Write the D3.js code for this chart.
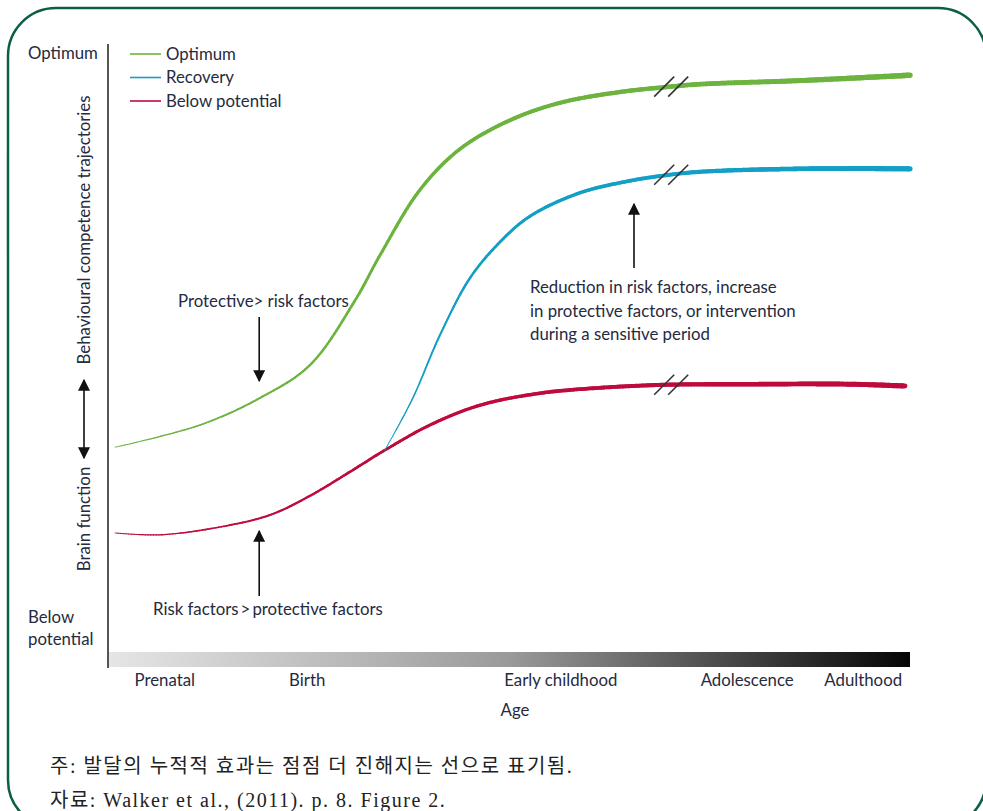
<!DOCTYPE html>
<html><head><meta charset="utf-8">
<script src="https://cdn.jsdelivr.net/npm/d3@7"></script>
<style>
html,body{margin:0;padding:0;background:#fff;}
svg{display:block;}
</style></head>
<body>
<svg id="chart" width="983" height="811"></svg>
<script>
// ---------- data ----------
const seriesNames = ["Optimum", "Recovery", "Below potential"];
const seriesColors = ["#6db33f", "#139fc6", "#be0a3c"];
// x: age index 0-100, y: level 0-100
const optimumX = [0.9, 11.5, 19, 25.25, 30.9, 34, 39, 44, 50.25, 56.5, 64, 69.6, 74, 86.5, 100.25];
const optimumY = [33.8, 37.5, 42, 47.5, 58.3, 65.8, 76.7, 83.5, 88.3, 91.2, 93, 93.8, 94.3, 94.9, 95.8];
const recoveryX = [34.6, 38, 41.5, 45.25, 49, 52.75, 59, 65.25, 69.6, 74, 86.5, 100.25];
const recoveryY = [33.3, 41.7, 52.5, 62, 68, 72.3, 76.2, 78.2, 79.1, 79.7, 80.2, 80.2];
const belowX = [0.9, 6.5, 14, 20.25, 25.25, 30.25, 34.6, 40.25, 46.5, 54, 61.5, 69.6, 80.25, 92.75, 99.6];
const belowY = [19.5, 19.2, 20.5, 22.5, 25.7, 29.7, 33.3, 37.5, 40.8, 42.8, 43.7, 44.2, 44.3, 44.3, 44.0];
const breakX = 70.4;
const ageLabels = ["Prenatal", "Birth", "Early childhood", "Adolescence", "Adulthood"];
const agePos = [7.1, 24.9, 56.6, 79.9, 94.4];
const footNotes = ["주: 발달의 누적적 효과는 점점 더 진해지는 선으로 표기됨.", "자료: Walker et al., (2011). p. 8. Figure 2."];
const annoReduction = ["Reduction in risk factors, increase", "in protective factors, or intervention", "during a sensitive period"];

// ---------- setup ----------
const svg = d3.select("#chart");
const x = d3.scaleLinear().domain([0, 100]).range([108, 908]);
const y = d3.scaleLinear().domain([0, 100]).range([650, 50]);
const txt = "#262a3e";
const font = "Lato, 'Open Sans', sans-serif";
const fs = 16.8;

// frame
svg.append("rect").attr("x", 8).attr("y", 8).attr("width", 978).attr("height", 820)
  .attr("rx", 48).attr("ry", 48).attr("fill", "none").attr("stroke", "#0b5e48").attr("stroke-width", 2.5);

const defs = svg.append("defs");
const grad = defs.append("linearGradient").attr("id", "ageGrad");
grad.append("stop").attr("offset", "0%").attr("stop-color", "#e6e6e6");
grad.append("stop").attr("offset", "50%").attr("stop-color", "#9a9a9a");
grad.append("stop").attr("offset", "100%").attr("stop-color", "#050505");
const ah2 = defs.append("marker").attr("id", "arrowBig").attr("viewBox", "0 0 10 10")
  .attr("refX", 9).attr("refY", 5).attr("markerWidth", 7.5).attr("markerHeight", 7.5)
  .attr("markerUnits", "strokeWidth").attr("orient", "auto-start-reverse");
ah2.append("path").attr("d", "M0,0 L10,5 L0,10 z").attr("fill", "#111");

// age gradient bar
svg.append("rect").attr("x", x(0)).attr("y", 652).attr("width", 910 - x(0)).attr("height", 15)
  .attr("fill", "url(#ageGrad)");
// y axis line
svg.append("line").attr("x1", x(0)).attr("x2", x(0)).attr("y1", 44).attr("y2", 668)
  .attr("stroke", "#555").attr("stroke-width", 2);

// age labels
svg.append("g").selectAll("text").data(ageLabels).join("text")
  .attr("x", (d, i) => x(agePos[i])).attr("y", 686).attr("text-anchor", "middle")
  .attr("font-family", font).attr("font-size", fs).attr("fill", txt).text(d => d);
svg.append("text").attr("x", 515).attr("y", 716).attr("text-anchor", "middle")
  .attr("font-family", font).attr("font-size", fs).attr("fill", txt).text("Age");

// y labels
svg.append("text").attr("x", 28).attr("y", 59).attr("font-family", font).attr("font-size", fs).attr("fill", txt).text("Optimum");
svg.append("text").attr("x", 28).attr("y", 623).attr("font-family", font).attr("font-size", fs).attr("fill", txt).text("Below");
svg.append("text").attr("x", 28).attr("y", 645).attr("font-family", font).attr("font-size", fs).attr("fill", txt).text("potential");
svg.append("text").attr("transform", "translate(90,230) rotate(-90)").attr("text-anchor", "middle")
  .attr("font-family", font).attr("font-size", fs).attr("fill", txt).text("Behavioural competence trajectories");
svg.append("text").attr("transform", "translate(90,519) rotate(-90)").attr("text-anchor", "middle")
  .attr("font-family", font).attr("font-size", fs).attr("fill", txt).text("Brain function");
svg.append("line").attr("x1", 84).attr("x2", 84).attr("y1", 380).attr("y2", 458)
  .attr("stroke", "#111").attr("stroke-width", 1.6)
  .attr("marker-start", "url(#arrowBig)").attr("marker-end", "url(#arrowBig)");

// legend
const lg = svg.append("g");
seriesNames.forEach((n, i) => {
  const yy = 54 + i * 23.5;
  lg.append("line").attr("x1", 130).attr("x2", 161).attr("y1", yy).attr("y2", yy)
    .attr("stroke", seriesColors[i]).attr("stroke-width", 1.6);
  lg.append("text").attr("x", 166).attr("y", yy + 5.5).attr("font-family", font).attr("font-size", fs)
    .attr("fill", txt).text(n);
});

// ---------- tapered curves ----------
function taperCurve(xs, ys, color, w0, w1) {
  const pts = xs.map((d, i) => [x(d), y(ys[i])]);
  const gen = d3.line().curve(d3.curveCatmullRom.alpha(0.5));
  const tmp = svg.append("path").attr("d", gen(pts)).attr("fill", "none").attr("stroke", "none");
  const node = tmp.node();
  const L = node.getTotalLength();
  const N = 300;
  const samp = d3.range(N + 1).map(i => node.getPointAtLength(L * i / N));
  tmp.remove();
  const g = svg.append("g");
  for (let i = 0; i < N; i++) {
    const t = i / N;
    const w = w0 + (w1 - w0) * Math.pow(t, 0.8);
    g.append("line").attr("x1", samp[i].x).attr("y1", samp[i].y)
      .attr("x2", samp[i + 1].x).attr("y2", samp[i + 1].y)
      .attr("stroke", color).attr("stroke-width", w).attr("stroke-linecap", "round");
  }
  return samp;
}
taperCurve(optimumX, optimumY, seriesColors[0], 0.9, 5.5);
taperCurve(belowX, belowY, seriesColors[2], 0.9, 5.2);
taperCurve(recoveryX, recoveryY, seriesColors[1], 0.8, 5.2);

// break marks
const interp = (xs, ys, v) => {
  for (let i = 0; i < xs.length - 1; i++) if (v >= xs[i] && v <= xs[i + 1]) {
    const t = (v - xs[i]) / (xs[i + 1] - xs[i]); return ys[i] + t * (ys[i + 1] - ys[i]);
  }
  return ys[ys.length - 1];
};
[[optimumX, optimumY], [recoveryX, recoveryY], [belowX, belowY]].forEach(([xs, ys]) => {
  const cy = y(interp(xs, ys, breakX));
  [-7, 7].forEach(off => {
    const cx = x(breakX) + off;
    svg.append("line").attr("x1", cx - 10).attr("y1", cy + 10).attr("x2", cx + 10).attr("y2", cy - 10)
      .attr("stroke", "#333").attr("stroke-width", 1.6);
  });
});

// annotations
svg.append("text").attr("x", 178).attr("y", 307).attr("font-family", font).attr("font-size", fs)
  .attr("fill", txt).text("Protective> risk factors");
svg.append("line").attr("x1", x(18.9)).attr("x2", x(18.9)).attr("y1", 317).attr("y2", 381)
  .attr("stroke", "#111").attr("stroke-width", 1.6).attr("marker-end", "url(#arrowBig)");
svg.append("text").attr("x", 153).attr("y", 615).attr("font-family", font).attr("font-size", fs)
  .attr("fill", txt).text("Risk factors\u2009>\u2009protective factors");
svg.append("line").attr("x1", x(18.9)).attr("x2", x(18.9)).attr("y1", 596).attr("y2", 531)
  .attr("stroke", "#111").attr("stroke-width", 1.6).attr("marker-end", "url(#arrowBig)");
svg.append("g").selectAll("text").data(annoReduction).join("text")
  .attr("x", 530).attr("y", (d, i) => 293 + i * 23.5).attr("font-family", font).attr("font-size", fs)
  .attr("fill", txt).text(d => d);
svg.append("line").attr("x1", x(65.75)).attr("x2", x(65.75)).attr("y1", 268).attr("y2", 204)
  .attr("stroke", "#111").attr("stroke-width", 1.6).attr("marker-end", "url(#arrowBig)");

// footnotes
svg.append("g").selectAll("text").data(footNotes).join("text")
  .attr("x", 50).attr("y", (d, i) => 773 + i * 34)
  .attr("font-family", "'Liberation Serif', 'Noto Sans CJK KR', serif").attr("font-size", 20)
  .attr("letter-spacing", 1.5)
  .attr("fill", "#222").text(d => d);
</script>
</body></html>
